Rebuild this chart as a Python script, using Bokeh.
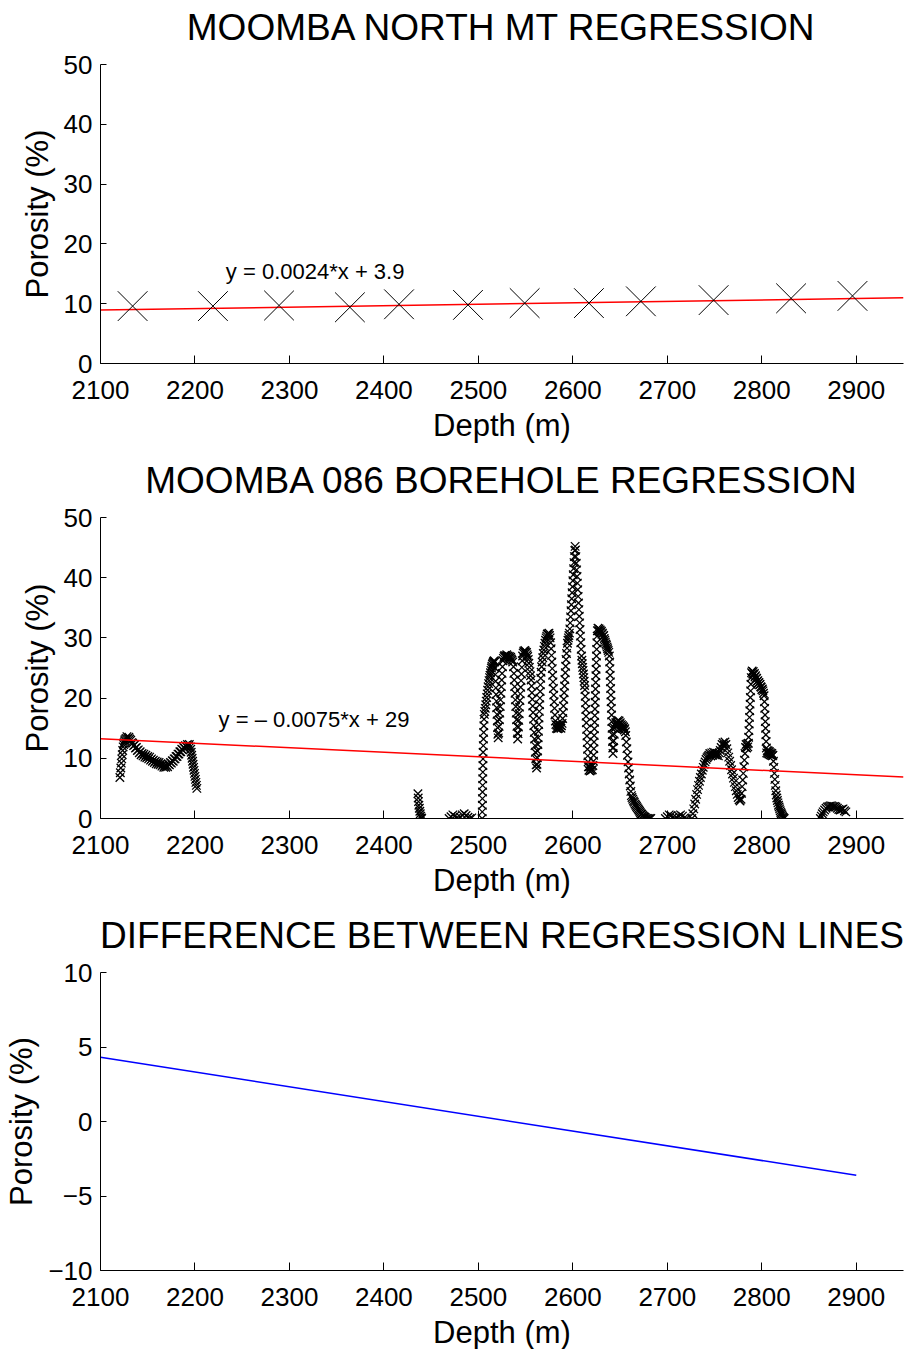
from bokeh.plotting import figure
from bokeh.layouts import column
from bokeh.models import Range1d, FixedTicker, Label, Title
from bokeh.embed import file_html
from bokeh.resources import INLINE

FONT = "Liberation Sans"

# ---------------- data ----------------
depth_ticks = [2100, 2200, 2300, 2400, 2500, 2600, 2700, 2800, 2900]
por_ticks = [0, 10, 20, 30, 40, 50]
diff_ticks = [-10, -5, 0, 5, 10]

titles = ["MOOMBA NORTH MT REGRESSION", "MOOMBA 086 BOREHOLE REGRESSION",
          "DIFFERENCE BETWEEN REGRESSION LINES"]
mt_eq = "y = 0.0024*x + 3.9"
bh_eq = "y = \u2013 0.0075*x + 29"

# MT-derived porosity
mt_depth = [2134, 2219, 2289, 2364, 2416, 2489, 2549, 2617, 2672, 2749, 2831, 2896]
mt_porosity = [9.6, 9.6, 9.7, 9.4, 9.9, 9.8, 10.1, 10.1, 10.4, 10.6, 10.9, 11.3]

# regression lines (end points)
fit_depth = [2100, 2950]
mt_fit = [8.94, 10.98]
bh_fit = [13.25, 6.875]
diff_depth = [2100, 2900]
diff_porosity = [4.31, -3.61]

# Moomba 086 borehole porosity log, read segment by segment
bh_2120_2202 = [
    (2120.5, 6.8), (2121.0, 7.6), (2121.5, 8.4), (2122.0, 9.2), (2122.5, 9.9), (2123.0, 10.6),
    (2123.5, 11.3), (2124.0, 11.9), (2124.5, 12.3), (2125.0, 12.6), (2125.5, 12.9), (2126.0, 13.1),
    (2127.0, 13.3), (2128.0, 13.6), (2129.0, 13.3), (2130.0, 13.5), (2131.0, 13.2), (2132.0, 13.0),
    (2133.0, 12.6), (2134.0, 12.5), (2135.0, 12.1), (2136.0, 12.2), (2137.0, 11.7), (2138.0, 11.8),
    (2139.0, 11.3), (2140.0, 11.4), (2141.0, 10.9), (2142.0, 11.1), (2143.0, 10.6), (2144.0, 10.8),
    (2145.0, 10.4), (2146.0, 10.7), (2147.0, 10.2), (2148.0, 10.5), (2149.0, 10.1), (2150.0, 10.3),
    (2151.0, 9.9), (2152.0, 10.2), (2153.0, 9.7), (2154.0, 9.9), (2155.0, 9.5), (2156.0, 9.7),
    (2157.0, 9.3), (2158.0, 9.5), (2159.0, 9.1), (2160.0, 9.4), (2161.0, 9.0), (2162.0, 9.3),
    (2163.0, 8.9), (2164.0, 9.1), (2165.0, 8.7), (2166.0, 8.9), (2167.0, 8.5), (2168.0, 8.8),
    (2169.0, 8.5), (2170.0, 8.8), (2171.0, 8.6), (2172.0, 9.0), (2173.0, 8.9), (2174.0, 9.3),
    (2175.0, 9.2), (2176.0, 9.6), (2177.0, 9.5), (2178.0, 9.9), (2179.0, 9.9), (2180.0, 10.3),
    (2181.0, 10.3), (2182.0, 10.7), (2183.0, 10.7), (2184.0, 11.1), (2185.0, 11.1), (2186.0, 11.5),
    (2187.0, 11.4), (2188.0, 11.8), (2189.0, 11.7), (2190.0, 12.1), (2191.0, 11.9), (2192.0, 12.3),
    (2193.0, 12.0), (2194.0, 12.3), (2195.0, 11.9), (2195.5, 11.5), (2196.0, 11.0), (2196.5, 10.5),
    (2197.0, 10.0), (2197.5, 9.5), (2198.0, 9.0), (2198.5, 8.5), (2199.0, 8.0), (2199.5, 7.5),
    (2200.0, 7.0), (2200.5, 6.5), (2201.0, 6.0), (2201.5, 5.5), (2202.0, 5.0),
]
bh_2436_2440 = [
    (2436.0, 4.1), (2436.3, 3.4), (2436.6, 2.8), (2437.0, 2.2), (2437.5, 1.7), (2438.0, 1.2),
    (2438.5, 0.8), (2439.0, 0.4), (2439.5, 0.1), (2440.0, 0.0),
]
bh_2469_2493 = [
    (2469, 0.0), (2471, 0.3), (2473, 0.6), (2475, 0.4), (2477, 0.1), (2479, 0.0), (2481, 0.2),
    (2483, 0.6), (2485, 0.8), (2487, 0.5), (2489, 0.2), (2491, 0.0), (2493, 0.1),
]
bh_2504_2682 = [
    (2504.0, 0.0), (2504.1, 1.1), (2504.2, 2.2), (2504.3, 3.3), (2504.4, 4.4), (2504.5, 5.5),
    (2504.6, 6.6), (2504.7, 7.7), (2504.8, 8.8), (2504.9, 9.9), (2505.0, 11.0), (2505.2, 12.1),
    (2505.4, 13.2), (2505.6, 14.3), (2505.8, 15.4), (2506.0, 16.5), (2506.3, 17.3),
    (2506.8, 17.8), (2507.3, 18.3), (2507.8, 18.9), (2508.3, 19.5), (2508.8, 20.1), (2509.3, 20.7),
    (2509.8, 21.3), (2510.3, 21.9), (2510.8, 22.4), (2511.3, 22.9), (2511.8, 23.4), (2512.3, 23.8),
    (2512.8, 24.2), (2513.3, 24.6), (2513.8, 25.0), (2514.3, 25.3), (2514.8, 25.6), (2515.3, 25.8),
    (2515.8, 26.0), (2516.3, 26.1), (2516.8, 26.2), (2517.3, 26.0),
    (2517.6, 25.0), (2517.9, 23.9), (2518.2, 22.8), (2518.5, 21.7), (2518.8, 20.6), (2519.1, 19.5),
    (2519.4, 18.4), (2519.7, 17.3), (2520.0, 16.2), (2520.3, 15.1), (2520.6, 14.0), (2521.0, 13.4),
    (2521.5, 14.2), (2521.9, 15.3), (2522.3, 16.4), (2522.7, 17.5), (2523.1, 18.6), (2523.5, 19.7),
    (2523.9, 20.8), (2524.3, 21.9), (2524.7, 23.0), (2525.1, 24.1), (2525.5, 25.2), (2525.9, 26.2),
    (2526.5, 26.6), (2527.2, 26.9), (2527.9, 27.1), (2528.6, 26.8), (2529.3, 27.0), (2530.0, 27.2),
    (2530.7, 26.9), (2531.4, 27.0), (2532.1, 26.7), (2532.8, 26.9), (2533.5, 26.6), (2534.2, 26.8),
    (2534.9, 26.5), (2535.6, 26.3), (2536.3, 26.0),
    (2537.2, 25.2), (2537.6, 24.1), (2538.0, 23.0), (2538.4, 21.9), (2538.8, 20.8), (2539.2, 19.7),
    (2539.6, 18.6), (2540.0, 17.5), (2540.4, 16.4), (2540.8, 15.3), (2541.2, 14.2), (2541.6, 13.2),
    (2542.0, 14.1), (2542.4, 15.2), (2542.8, 16.3), (2543.2, 17.4), (2543.6, 18.5), (2544.0, 19.6),
    (2544.4, 20.7), (2544.8, 21.8), (2545.2, 22.9), (2545.6, 24.0), (2546.0, 25.1), (2546.4, 26.2),
    (2546.8, 27.0), (2547.4, 27.5), (2548.0, 27.8), (2548.6, 27.6), (2549.2, 27.9), (2549.8, 27.7),
    (2550.4, 27.5), (2551.0, 27.6), (2551.6, 27.2), (2552.2, 26.9), (2552.8, 26.4), (2553.4, 25.8),
    (2554.0, 25.1), (2554.6, 24.4), (2555.2, 23.7), (2555.8, 23.0),
    (2556.3, 22.0), (2556.7, 20.9), (2557.1, 19.8), (2557.5, 18.7), (2557.9, 17.6), (2558.3, 16.5),
    (2558.7, 15.4), (2559.1, 14.3), (2559.5, 13.2), (2559.9, 12.1), (2560.3, 11.0), (2560.7, 9.9),
    (2561.1, 8.9), (2561.6, 8.4),
    (2562.1, 9.0), (2562.4, 10.1), (2562.7, 11.2), (2563.0, 12.3), (2563.3, 13.4), (2563.6, 14.5),
    (2563.9, 15.6), (2564.2, 16.7), (2564.5, 17.8), (2564.8, 18.9), (2565.1, 20.0), (2565.4, 21.1),
    (2565.7, 22.2), (2566.0, 23.3), (2566.4, 24.3), (2566.9, 25.2),
    (2567.5, 26.0), (2568.1, 26.7), (2568.7, 27.4), (2569.3, 28.0), (2569.9, 28.6), (2570.5, 29.1),
    (2571.1, 29.6), (2571.7, 30.0), (2572.3, 30.3), (2572.9, 30.6), (2573.5, 30.7), (2574.1, 30.5),
    (2574.7, 30.8), (2575.3, 30.4), (2575.9, 30.0), (2576.5, 29.2),
    (2577.0, 28.2), (2577.4, 27.1), (2577.8, 26.0), (2578.2, 24.9), (2578.6, 23.8), (2579.0, 22.7),
    (2579.4, 21.6), (2579.8, 20.5), (2580.2, 19.4), (2580.6, 18.3), (2581.0, 17.2), (2581.5, 16.2),
    (2582.0, 15.6), (2582.6, 15.0), (2583.2, 15.5), (2583.8, 14.9), (2584.4, 15.4), (2585.0, 15.0),
    (2585.6, 15.6), (2586.2, 15.1), (2586.8, 15.5), (2587.4, 15.0), (2588.0, 15.4), (2588.6, 15.8),
    (2589.2, 16.6),
    (2589.6, 17.6), (2590.0, 18.7), (2590.4, 19.8), (2590.8, 20.9), (2591.2, 22.0), (2591.6, 23.1),
    (2592.0, 24.2), (2592.4, 25.3), (2592.8, 26.4), (2593.3, 27.4), (2593.8, 28.3), (2594.3, 29.1),
    (2594.8, 29.6), (2595.3, 30.0), (2595.8, 30.4), (2596.3, 30.8),
    (2596.8, 31.5), (2597.2, 32.5), (2597.6, 33.5), (2598.0, 34.5), (2598.4, 35.5), (2598.8, 36.5),
    (2599.2, 37.5), (2599.6, 38.5), (2600.0, 39.5), (2600.4, 40.5), (2600.8, 41.5), (2601.2, 42.5),
    (2601.6, 43.5), (2602.0, 44.5), (2602.4, 45.2), (2602.8, 44.6),
    (2603.2, 43.5), (2603.6, 42.4), (2604.0, 41.3), (2604.4, 40.2), (2604.8, 39.1), (2605.2, 38.0),
    (2605.6, 36.9), (2606.0, 35.8), (2606.4, 34.7), (2606.8, 33.6), (2607.2, 32.5), (2607.6, 31.4),
    (2608.0, 30.3), (2608.4, 29.2), (2608.8, 28.1), (2609.2, 27.0),
    (2609.6, 26.3), (2610.0, 25.7), (2610.4, 25.1), (2610.8, 24.6), (2611.2, 24.0), (2611.6, 23.4),
    (2612.0, 22.8), (2612.4, 22.1), (2612.8, 21.4),
    (2613.1, 20.3), (2613.4, 19.2), (2613.7, 18.1), (2614.0, 17.0), (2614.3, 15.9), (2614.6, 14.8),
    (2614.9, 13.7), (2615.2, 12.6), (2615.5, 11.5), (2615.8, 10.4), (2616.1, 9.4), (2616.5, 8.6),
    (2617.0, 8.0), (2617.6, 8.6), (2618.2, 7.9), (2618.8, 8.5), (2619.4, 8.0), (2620.0, 8.7),
    (2620.6, 8.1), (2621.2, 8.8), (2621.8, 9.5),
    (2622.0, 10.5), (2622.2, 11.6), (2622.4, 12.7), (2622.6, 13.8), (2622.8, 14.9), (2623.0, 16.0),
    (2623.2, 17.1), (2623.4, 18.2), (2623.6, 19.3), (2623.8, 20.4), (2624.0, 21.5), (2624.2, 22.6),
    (2624.4, 23.7), (2624.6, 24.8), (2624.8, 25.9), (2625.0, 27.0), (2625.2, 28.1), (2625.4, 29.2),
    (2625.7, 30.3), (2626.0, 31.2),
    (2626.6, 31.6), (2627.2, 31.2), (2627.8, 31.5), (2628.4, 31.0), (2629.0, 31.3), (2629.6, 30.9),
    (2630.2, 31.1), (2630.8, 30.6), (2631.4, 30.8), (2632.0, 30.3), (2632.6, 30.4), (2633.2, 29.9),
    (2633.8, 29.6), (2634.4, 29.3), (2635.0, 29.0), (2635.6, 28.8), (2636.2, 28.5), (2636.8, 28.2),
    (2637.4, 27.9), (2638.0, 27.6), (2638.6, 27.0),
    (2639.0, 26.0), (2639.25, 24.9), (2639.5, 23.8), (2639.75, 22.7), (2640.0, 21.6), (2640.25, 20.5),
    (2640.5, 19.4), (2640.75, 18.3), (2641.0, 17.2), (2641.25, 16.1), (2641.5, 15.0), (2641.75, 13.9),
    (2642.0, 12.8), (2642.25, 11.7), (2642.5, 10.8),
    (2643.0, 11.8), (2643.4, 12.9), (2643.8, 14.0), (2644.2, 15.0),
    (2644.8, 15.4), (2645.4, 15.9), (2646.0, 15.3), (2646.6, 16.0), (2647.2, 15.5), (2647.8, 16.3),
    (2648.4, 15.7), (2649.0, 16.2), (2649.6, 15.6), (2650.2, 15.9), (2650.8, 15.2), (2651.4, 15.6),
    (2652.0, 15.0), (2652.6, 15.4), (2653.2, 14.9), (2653.8, 15.2), (2654.4, 14.7), (2655.0, 14.9),
    (2655.6, 14.4),
    (2656.0, 13.8), (2656.6, 12.7), (2657.2, 11.6), (2657.8, 10.5), (2658.4, 9.4), (2659.0, 8.4),
    (2659.6, 7.4), (2660.2, 6.4), (2660.8, 5.4), (2661.4, 4.5), (2662.0, 3.8),
    (2662.6, 3.5), (2663.4, 3.2), (2664.2, 2.9), (2665.0, 2.7), (2665.8, 2.4), (2666.6, 2.2),
    (2667.4, 2.0), (2668.2, 1.8), (2669.0, 1.6), (2669.8, 1.4), (2670.6, 1.2), (2671.4, 1.0),
    (2672.2, 0.8), (2673.0, 0.7), (2673.8, 0.5), (2674.6, 0.4), (2675.4, 0.3), (2676.2, 0.2),
    (2677.0, 0.1), (2678.0, 0.0), (2679.5, 0.0), (2681.0, 0.0), (2682.5, 0.0),
]
bh_2698_2720 = [
    (2698, 0.0), (2700, 0.3), (2702, 0.6), (2704, 0.5), (2706, 0.2), (2708, 0.0), (2710, 0.1),
    (2712, 0.4), (2714, 0.6), (2716, 0.4), (2718, 0.1), (2720, 0.0),
]
bh_2726_2824 = [
    (2726.0, 0.0), (2727.0, 0.8), (2728.0, 1.6), (2729.0, 2.4), (2730.0, 3.2), (2731.0, 4.0),
    (2732.0, 4.8), (2733.0, 5.5), (2734.0, 6.2), (2735.0, 6.8), (2736.0, 7.4), (2737.0, 8.0),
    (2738.0, 8.5), (2739.0, 9.0), (2740.0, 9.4), (2741.0, 9.8), (2742.0, 10.1), (2743.0, 10.3),
    (2744.0, 10.5), (2745.0, 10.8), (2746.0, 10.4), (2747.0, 10.9), (2748.0, 10.5), (2749.0, 11.0),
    (2750.0, 10.6), (2751.0, 10.9), (2752.0, 10.5), (2753.0, 10.8), (2754.0, 10.4), (2755.0, 10.9),
    (2756.0, 11.3), (2757.0, 11.8), (2758.0, 12.3), (2759.0, 12.6), (2760.0, 12.2), (2761.0, 12.7),
    (2762.0, 12.3), (2763.0, 11.6),
    (2764.0, 10.9), (2765.0, 10.2), (2766.0, 9.5), (2767.0, 8.8), (2768.0, 8.1), (2769.0, 7.4),
    (2770.0, 6.7), (2771.0, 6.0), (2772.0, 5.3), (2773.0, 4.6), (2774.0, 4.0), (2775.0, 3.5),
    (2776.0, 3.1), (2777.0, 2.9), (2778.0, 3.2),
    (2778.6, 4.2), (2779.2, 5.3), (2779.8, 6.4), (2780.4, 7.5), (2781.0, 8.6), (2781.6, 9.7),
    (2782.2, 10.8), (2782.8, 11.8), (2783.4, 12.3), (2784.0, 11.7), (2784.6, 12.4), (2785.2, 11.9),
    (2785.8, 12.5),
    (2786.1, 13.5), (2786.4, 14.6), (2786.7, 15.7), (2787.0, 16.8), (2787.3, 17.9), (2787.6, 19.0),
    (2787.9, 20.1), (2788.2, 21.2), (2788.5, 22.3), (2788.8, 23.4), (2789.2, 24.2),
    (2789.8, 24.5), (2790.4, 24.0), (2791.0, 24.4), (2791.6, 23.9), (2792.2, 24.1), (2792.8, 23.5),
    (2793.4, 23.7), (2794.0, 23.2), (2794.6, 23.3), (2795.2, 22.8), (2795.8, 22.9), (2796.4, 22.5),
    (2797.0, 22.6), (2797.6, 22.2), (2798.2, 22.3), (2798.8, 21.9), (2799.4, 21.8), (2800.0, 21.4),
    (2800.6, 21.5), (2801.2, 21.2), (2801.8, 20.8), (2802.4, 20.4),
    (2802.8, 19.4), (2803.1, 18.3), (2803.4, 17.2), (2803.7, 16.1), (2804.0, 15.0), (2804.3, 13.9),
    (2804.6, 12.8), (2804.9, 11.7), (2805.2, 10.9),
    (2805.8, 11.3), (2806.4, 10.8), (2807.0, 11.2), (2807.6, 10.7), (2808.2, 11.1), (2808.8, 10.6),
    (2809.4, 10.9), (2810.0, 10.5), (2810.6, 10.8), (2811.2, 10.4), (2811.8, 10.5),
    (2812.3, 9.5), (2812.8, 8.5), (2813.3, 7.5), (2813.8, 6.5), (2814.3, 5.5), (2814.8, 4.6),
    (2815.3, 3.9), (2815.9, 3.4), (2816.5, 3.0), (2817.1, 2.6), (2817.7, 2.2), (2818.3, 1.9),
    (2818.9, 1.6), (2819.5, 1.3), (2820.1, 1.0), (2820.7, 0.8), (2821.3, 0.6), (2821.9, 0.4),
    (2822.5, 0.2), (2823.1, 0.1), (2823.7, 0.0),
]
bh_2862_2889 = [
    (2862.0, 0.0), (2863.0, 0.4), (2864.0, 0.8), (2865.0, 1.1), (2866.5, 1.4), (2868.0, 1.7),
    (2869.5, 1.9), (2871.0, 2.0), (2872.5, 2.1), (2874.0, 2.1), (2875.5, 2.0), (2877.0, 2.0),
    (2878.5, 1.9), (2880.0, 1.7), (2881.5, 1.5), (2883.0, 1.4), (2884.5, 1.5), (2886.0, 1.6),
    (2887.5, 1.3), (2889.0, 1.1),
]

bh_segments = [bh_2120_2202, bh_2436_2440, bh_2469_2493, bh_2504_2682,
               bh_2698_2720, bh_2726_2824, bh_2862_2889]
bh_depth = [d for seg in bh_segments for d, _ in seg]
bh_porosity = [v for seg in bh_segments for _, v in seg]


# ---------------- figures ----------------
def make_fig(title, y_range, y_ticks, frame_h, top, bottom, overrides=None):
    p = figure(frame_width=803, frame_height=frame_h,
               min_border_left=100, min_border_right=3,
               min_border_top=top, min_border_bottom=bottom,
               x_range=Range1d(2100, 2950), y_range=Range1d(*y_range),
               output_backend="svg", toolbar_location=None, tools="")
    p.title.text = ""
    # thin spacer next to the frame, then the chart title further out
    p.add_layout(Title(text=" ", text_font=FONT, text_font_size="8px", standoff=1.5), "above")
    p.add_layout(Title(text=title, text_font=FONT, text_font_size="37px",
                       text_font_style="normal", text_color="black", align="center",
                       standoff=7), "above")
    p.outline_line_color = None
    p.grid.visible = False
    p.background_fill_color = "white"
    p.border_fill_color = "white"

    p.xaxis.ticker = FixedTicker(ticks=depth_ticks)
    p.yaxis.ticker = FixedTicker(ticks=y_ticks)
    if overrides:
        p.yaxis.major_label_overrides = overrides
    for ax in (p.xaxis[0], p.yaxis[0]):
        ax.axis_line_color = "black"
        ax.axis_line_width = 1
        ax.major_tick_line_color = "black"
        ax.major_tick_out = 0
        ax.minor_tick_line_color = None
        ax.major_label_text_font = FONT
        ax.major_label_text_font_size = "26px"
        ax.major_label_text_color = "black"
        ax.axis_label_text_font = FONT
        ax.axis_label_text_font_size = "31px"
        ax.axis_label_text_font_style = "normal"
        ax.axis_label_text_color = "black"
    p.xaxis.major_tick_in = 8
    p.yaxis.major_tick_in = 6
    p.xaxis.major_label_standoff = 17
    p.yaxis.major_label_standoff = 8
    p.xaxis.axis_label = "Depth (m)"
    p.yaxis.axis_label = "Porosity (%)"
    p.xaxis.axis_label_standoff = 6
    p.yaxis.axis_label_standoff = 6
    return p


p1 = make_fig(titles[0], (0, 50), por_ticks, 299, 64, 87)
p1.line(fit_depth, mt_fit, line_color="#ff0000", line_width=1.5)
p1.scatter(mt_depth, mt_porosity, marker="x", size=42, line_color="black", line_width=1)
p1.add_layout(Label(x=2232.7, y=15.4, text=mt_eq, text_font=FONT, text_font_size="22px",
                    text_baseline="middle", text_align="left", text_color="black"))

p2 = make_fig(titles[1], (0, 50), por_ticks, 301, 67, 82)
p2.scatter(bh_depth, bh_porosity, marker="x", size=12, line_color="black", line_width=1.3)
p2.line(fit_depth, bh_fit, line_color="#ff0000", line_width=1.5)
p2.add_layout(Label(x=2225, y=16.4, text=bh_eq, text_font=FONT, text_font_size="22px",
                    text_baseline="middle", text_align="left", text_color="black"))

p3 = make_fig(titles[2], (-10, 10), diff_ticks, 298, 72, 79,
              overrides={-10: "\u221210", -5: "\u22125"})
p3.line(diff_depth, diff_porosity, line_color="#0000ff", line_width=1.5)

layout = column(p1, p2, p3, spacing=0)
open("out.html", "w").write(file_html(layout, INLINE))
